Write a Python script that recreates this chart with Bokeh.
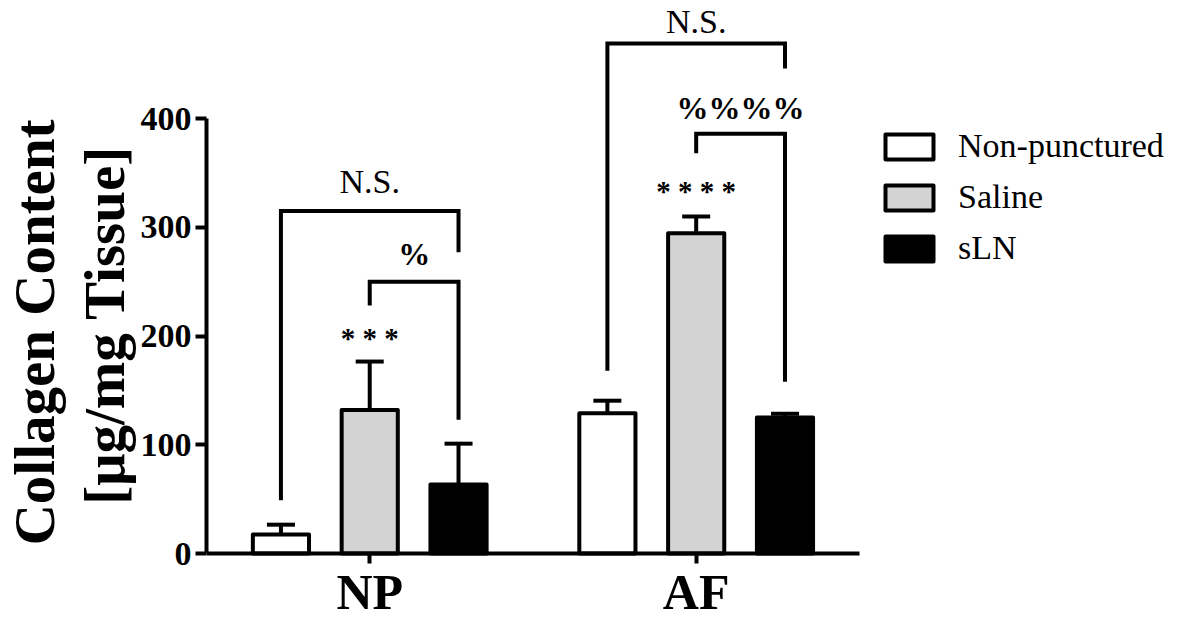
from bokeh.plotting import figure
from bokeh.models import (Range1d, FixedTicker, Whisker, TeeHead, ColumnDataSource,
                          Legend, LegendItem)
from bokeh.core.properties import value
from bokeh.embed import file_html
from bokeh.resources import INLINE

# ---------------- data ----------------
groups = ["NP", "AF"]
series = ["Non-punctured", "Saline", "sLN"]
mean_nonpunctured = [17.5, 129.0]
mean_saline = [132.0, 294.5]
mean_sln = [63.5, 125.0]
err_nonpunctured = [9.0, 11.5]
err_saline = [44.5, 15.5]
err_sln = [37.5, 3.5]
fill_colors = ["#ffffff", "#d3d3d3", "#000000"]
y_ticks = [0, 100, 200, 300, 400]

# significance brackets
bracket_group = ["NP", "NP", "AF", "AF"]
bracket_from = [0, 1, 0, 1]
bracket_to = [2, 2, 2, 2]
bracket_top = [315, 250, 469, 386]
bracket_left_end = [49, 228, 168, 368]
bracket_right_end = [277, 123, 446, 158]
bracket_labels = ["N.S.", "%", "N.S.", "%%%%"]
bracket_label_y = [342, 275, 489, 410]

star_group = ["NP", "AF"]
star_series = [1, 1]
star_labels = ["* * *", "* * * *"]
star_y = [198.5, 333]

# ---------------- layout constants ----------------
FONT = "Liberation Serif"
W, H = 1165, 621
LEFT = 200                 # frame left inside figure
PX_PER_X = 328.5           # px per x unit
PX_PER_Y = 1.0875          # px per y unit
ZERO_FROM_TOP = 553        # y=0 pixel offset from figure top
x_end = (W - LEFT) / PX_PER_X
y_end = ZERO_FROM_TOP / PX_PER_Y
y_start = -(H - ZERO_FROM_TOP) / PX_PER_Y

group_center = {g: i + 0.5 for i, g in enumerate(groups)}
offsets = [-0.272, 0.0, 0.272]
bar_width = 0.172

p = figure(width=W, height=H, output_backend="svg", toolbar_location=None,
           x_range=Range1d(0, x_end), y_range=Range1d(y_start, y_end),
           min_border_left=LEFT, min_border_right=0, min_border_top=0,
           min_border_bottom=0)
p.outline_line_color = None
p.xgrid.visible = False
p.ygrid.visible = False
p.background_fill_color = "white"

means = [mean_nonpunctured, mean_saline, mean_sln]
errs = [err_nonpunctured, err_saline, err_sln]
renderers = []
for j, name in enumerate(series):
    xs = [group_center[g] + offsets[j] for g in groups]
    src = ColumnDataSource(dict(x=xs, top=means[j],
                                upper=[m + e for m, e in zip(means[j], errs[j])]))
    w = Whisker(source=src, base="x", lower="top", upper="upper", dimension="height",
                line_width=4, line_color="black",
                upper_head=TeeHead(size=28, line_width=4, line_color="black"),
                lower_head=None)
    p.add_layout(w)
    r = p.vbar(x="x", top="top", bottom=0, width=bar_width, source=src,
               fill_color=fill_colors[j], line_color="black", line_width=4,
               line_join="round")
    renderers.append(r)

# brackets
bxs, bys = [], []
for g, a, b, top, le, re_ in zip(bracket_group, bracket_from, bracket_to,
                                 bracket_top, bracket_left_end, bracket_right_end):
    xa = group_center[g] + offsets[a]
    xb = group_center[g] + offsets[b]
    bxs.append([xa, xa, xb, xb])
    bys.append([le, top, top, re_])
p.multi_line(xs=bxs, ys=bys, line_color="black", line_width=4, line_join="miter")

# bracket labels
for g, a, b, lab, yy in zip(bracket_group, bracket_from, bracket_to,
                            bracket_labels, bracket_label_y):
    xm = group_center[g] + (offsets[a] + offsets[b]) / 2
    if lab == "N.S.":
        p.text(x=[xm], y=[yy], text=[lab], text_font=value(FONT), text_font_size="34px",
               text_align="center", text_baseline="middle", text_color="black")
    else:
        p.text(x=[xm], y=[yy], text=[lab], text_font=value(FONT), text_font_size="32px",
               text_font_style="bold", text_align="center", text_baseline="middle",
               text_color="black")

for g, s, lab, yy in zip(star_group, star_series, star_labels, star_y):
    p.text(x=[group_center[g] + offsets[s]], y=[yy], text=[lab], text_font=value(FONT),
           text_font_size="29px", text_font_style="bold", text_align="center",
           text_baseline="middle", text_color="black")

# y axis
ya = p.yaxis[0]
ya.ticker = FixedTicker(ticks=y_ticks)
ya.bounds = (0, 400)
ya.axis_line_width = 4
ya.major_tick_line_width = 4
ya.major_tick_out = 11
ya.major_tick_in = 0
ya.minor_tick_line_color = None
ya.major_label_text_font = FONT
ya.major_label_text_font_style = "bold"
ya.major_label_text_font_size = "34px"
ya.major_label_text_color = "black"
ya.major_label_standoff = 4
NB = "\u00a0"
ya.axis_label = "Collagen Content" + NB * 3 + "\n[\u03bcg/mg Tissue]" + NB * 2
ya.axis_label_text_font = FONT
ya.axis_label_text_font_style = "bold"
ya.axis_label_text_font_size = "57px"
ya.axis_label_text_line_height = 1.1
ya.axis_label_text_color = "black"
ya.axis_label_standoff = 2

# x axis, fixed at y = 0
xa = p.xaxis[0]
xa.fixed_location = 0
xa.bounds = (0, 2)
xa.ticker = FixedTicker(ticks=[group_center[g] for g in groups])
xa.major_label_overrides = {group_center[g]: g for g in groups}
xa.axis_line_width = 4
xa.major_tick_line_width = 4
xa.major_tick_out = 10
xa.major_tick_in = 0
xa.minor_tick_line_color = None
xa.major_label_text_font = FONT
xa.major_label_text_font_style = "bold"
xa.major_label_text_font_size = "50px"
xa.major_label_text_color = "black"
xa.major_label_standoff = 0

legend = Legend(items=[LegendItem(label=s, renderers=[r]) for s, r in zip(series, renderers)],
                location=(673, 354), glyph_width=60, glyph_height=31, label_standoff=19,
                label_text_font=FONT, label_text_font_size="34px", label_text_color="black",
                spacing=13, padding=0, margin=0, border_line_color=None,
                background_fill_alpha=0)
p.add_layout(legend, "center")

open("out.html", "w").write(file_html(p, INLINE))
